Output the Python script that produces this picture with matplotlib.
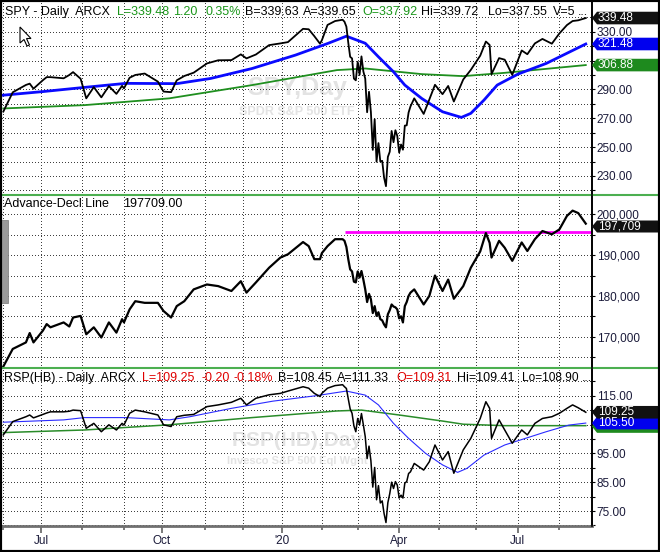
import numpy as np
import pandas as pd
import matplotlib
matplotlib.use("Agg")
import matplotlib.pyplot as plt
from matplotlib.patches import Polygon, Rectangle
from matplotlib.lines import Line2D
from matplotlib.transforms import IdentityTransform

plt.rcParams['font.family'] = ['Liberation Sans', 'DejaVu Sans']

# NYSE sessions on the chart (x axis is one slot per trading day)
holidays = ['2019-07-04', '2019-09-02', '2019-11-28', '2019-12-25', '2020-01-01',
            '2020-01-20', '2020-02-17', '2020-04-10', '2020-05-25', '2020-07-03']

# readings (closes)
dates = ['2019-06-03', '2019-06-10', '2019-06-19', '2019-06-21', '2019-06-25', '2019-07-02',
         '2019-07-05', '2019-07-09', '2019-07-18', '2019-07-23', '2019-07-25', '2019-07-31',
         '2019-08-05', '2019-08-09', '2019-08-15', '2019-08-21', '2019-08-27', '2019-08-30',
         '2019-09-03', '2019-09-06', '2019-09-11', '2019-09-18', '2019-09-27', '2019-10-02',
         '2019-10-08', '2019-10-11', '2019-10-17', '2019-10-24', '2019-11-04', '2019-11-12',
         '2019-11-21', '2019-11-29', '2019-12-04', '2019-12-11', '2019-12-20', '2019-12-31',
         '2020-01-07', '2020-01-17', '2020-01-23', '2020-01-28', '2020-01-31', '2020-02-03',
         '2020-02-06', '2020-02-12', '2020-02-19',
         # crash, day by day
         '2020-02-20', '2020-02-21', '2020-02-24', '2020-02-25', '2020-02-26', '2020-02-27',
         '2020-02-28', '2020-03-02', '2020-03-03', '2020-03-04', '2020-03-05', '2020-03-06',
         '2020-03-09', '2020-03-10', '2020-03-11', '2020-03-12', '2020-03-13', '2020-03-16',
         '2020-03-17', '2020-03-18', '2020-03-19', '2020-03-20', '2020-03-23', '2020-03-24',
         '2020-03-25', '2020-03-26', '2020-03-27', '2020-03-30', '2020-03-31', '2020-04-01',
         '2020-04-02', '2020-04-03', '2020-04-06', '2020-04-07', '2020-04-08', '2020-04-09',
         # recovery
         '2020-04-14', '2020-04-21', '2020-04-24', '2020-04-29', '2020-05-05', '2020-05-08',
         '2020-05-13', '2020-05-20', '2020-05-27', '2020-06-03', '2020-06-08', '2020-06-10',
         '2020-06-11', '2020-06-17', '2020-06-22', '2020-06-26', '2020-07-06', '2020-07-09',
         '2020-07-15', '2020-07-21', '2020-07-28', '2020-08-03', '2020-08-07', '2020-08-12',
         '2020-08-17', '2020-08-21']

spy = [274.6, 288.0, 293.1, 294.0, 290.5, 296.4,
       298.5, 298.5, 297.7, 300.0, 302.0, 297.4,
       283.8, 291.6, 284.5, 292.3, 286.9, 292.5,
       290.7, 298.1, 300.0, 301.0, 295.4, 288.5,
       288.1, 296.3, 299.3, 301.6, 308.0, 310.2,
       310.3, 314.3, 311.5, 314.2, 320.7, 321.9,
       322.8, 332.0, 331.7, 326.9, 321.7, 324.1,
       334.7, 337.4, 338.3,
       336.9, 333.5, 322.4, 312.6, 311.5, 297.5,
       296.3, 309.1, 300.2, 312.9, 302.5, 297.5,
       274.2, 288.4, 274.4, 248.1, 269.3, 239.9,
       252.8, 240.0, 240.5, 228.8, 222.9, 243.2,
       246.8, 261.2, 253.4, 261.7, 257.8, 246.2,
       251.8, 248.2, 264.9, 265.1, 274.0, 278.2,
       283.8, 273.0, 283.0, 293.2, 286.7, 292.4,
       281.6, 296.9, 303.5, 313.4, 323.2, 320.8,
       300.6, 311.7, 310.6, 300.1, 317.0, 314.4,
       321.9, 325.0, 321.7, 328.8, 334.6, 337.4,
       337.9, 339.48]

adline = [162700, 167000, 168600, 170900, 168600, 171500,
          173100, 172300, 173500, 172500, 174700, 175100,
          170600, 172300, 169800, 173500, 171000, 174300,
          173500, 176700, 178700, 178300, 178300, 176300,
          174700, 177500, 178700, 181600, 182800, 182400,
          181200, 183600, 180800, 183300, 186900, 189400,
          190200, 193200, 192200, 189000, 189000, 190500,
          192200, 193900, 193900,
          193500, 192000, 189000, 186500, 186000, 183500,
          183300, 186000, 184500, 186100, 184000, 181600,
          178500, 180500, 179200, 175800, 177500, 175100,
          176000, 174300, 174000, 173000, 172300, 175500,
          176500, 177900, 177400, 177200, 176700, 174500,
          175000, 173500, 177500, 178500, 180000, 180800,
          181600, 177900, 180000, 185000, 181200, 184000,
          179300, 182400, 186900, 190900, 195400, 193000,
          189400, 193500, 191800, 188600, 193100, 191000,
          193900, 195900, 195100, 196300, 199600, 200900,
          200300, 197709]

rsp = [101.4, 106.0, 107.7, 108.3, 107.3, 108.5,
       109.0, 109.4, 109.4, 109.6, 110.0, 109.8,
       103.7, 105.4, 102.5, 104.9, 103.1, 105.4,
       104.8, 108.9, 110.0, 109.4, 108.3, 104.9,
       104.3, 107.7, 108.2, 108.5, 111.2, 111.8,
       112.7, 114.1, 111.8, 114.1, 115.3, 115.8,
       116.6, 118.1, 117.6, 115.8, 114.7, 115.8,
       117.6, 118.5, 118.8,
       118.1, 117.5, 113.9, 110.4, 108.9, 104.5,
       102.5, 107.1, 104.9, 108.8, 104.9, 100.8,
       93.2, 97.5, 92.5, 83.3, 90.1, 78.9,
       83.8, 77.8, 78.5, 74.1, 71.0, 77.9,
       81.0, 85.0, 82.8, 85.2, 84.0, 79.5,
       80.5, 79.5, 84.7, 85.2, 88.0, 88.6,
       91.5, 89.2, 92.1, 97.9, 92.7, 95.6,
       88.1, 96.2, 100.2, 107.1, 112.9, 110.6,
       100.2, 106.6, 103.1, 98.5, 103.1, 101.4,
       105.4, 107.1, 107.7, 108.9, 110.6, 111.8,
       110.8, 109.25]

spy_ma50_dates = ['2019-06-03', '2019-07-02', '2019-08-02', '2019-09-04', '2019-10-11', '2019-11-06',
                  '2019-12-09', '2020-01-13', '2020-02-06', '2020-02-21', '2020-03-06', '2020-03-17',
                  '2020-03-27', '2020-04-06', '2020-04-20', '2020-05-05', '2020-05-19', '2020-05-27',
                  '2020-06-05', '2020-06-16', '2020-07-01', '2020-07-23', '2020-08-21']
spy_ma50 = [286.0, 288.5, 291.4, 294.2, 294.0, 297.6,
            304.5, 313.8, 321.8, 326.9, 322.0, 312.6,
            302.2, 293.0, 283.7, 274.5, 270.6, 273.4,
            282.6, 293.0, 300.6, 308.0, 321.48]

spy_ma200_dates = ['2019-06-03', '2019-08-02', '2019-10-07', '2019-12-09', '2020-02-13',
                   '2020-03-06', '2020-04-20', '2020-05-20', '2020-06-22', '2020-08-21']
spy_ma200 = [276.8, 279.1, 283.8, 293.0, 303.4, 304.5, 300.6, 299.2, 301.5, 306.88]

rsp_ma50_dates = ['2019-06-03', '2019-07-18', '2019-08-02', '2019-09-04', '2019-10-07', '2019-10-22',
                  '2019-11-21', '2019-12-24', '2020-01-29', '2020-02-21', '2020-03-06', '2020-03-17',
                  '2020-03-27', '2020-04-08', '2020-04-22', '2020-05-05', '2020-05-15', '2020-05-22',
                  '2020-06-05', '2020-06-22', '2020-07-08', '2020-07-23', '2020-08-10', '2020-08-21']
rsp_ma50 = [105.8, 106.6, 107.4, 107.4, 106.6, 107.7,
            110.6, 113.1, 115.0, 116.6, 115.2, 111.8,
            105.4, 100.2, 95.0, 91.0, 88.4, 89.8,
            94.4, 97.9, 100.2, 102.5, 104.8, 105.5]

rsp_ma200_dates = ['2019-06-03', '2019-08-02', '2019-10-07', '2019-12-09', '2020-02-13', '2020-03-04',
                   '2020-04-01', '2020-05-05', '2020-05-20', '2020-06-22', '2020-08-21']
rsp_ma200 = [102.2, 103.1, 104.9, 107.4, 109.7, 110.0, 108.3, 106.2, 105.1, 104.6, 104.6]

ad_resistance = 195540
ad_resistance_from = '2020-02-20'

quarter_labels = ['Jul', 'Oct', "'20", 'Apr', 'Jul']

assert len(dates) == len(spy) == len(adline) == len(rsp)

sessions = pd.bdate_range('2019-06-03', '2020-08-21')
sessions = sessions[~sessions.isin(pd.to_datetime(holidays))]


def slot(ds):
    return sessions.searchsorted(pd.to_datetime(ds))


x = slot(dates)
month_first = sessions.to_series().groupby(sessions.to_period('M')).first()
month_pos = slot(month_first.values)
month_names = month_first.index.month
quarter_pos = [p for p, m in zip(month_pos, month_names) if m in (1, 4, 7, 10)]
other_pos = [p for p, m in zip(month_pos, month_names) if m not in (1, 4, 7, 10)]

W, H = 660, 552
fig = plt.figure(figsize=(W / 100, H / 100), dpi=100)
fig.patch.set_facecolor('white')


def box(top, bottom):
    return [2 / W, 1 - bottom / H, 590 / W, (bottom - top) / H]


def put(px, py, s, **kw):
    return fig.text(px / W, 1 - py / H, s, **kw)


ax1 = fig.add_axes(box(2, 195))
ax2 = fig.add_axes(box(195, 368))
ax3 = fig.add_axes(box(368, 526))

label_col = '#1b1b3a'
# crisp 1px dotted grid
grid_kw = dict(color='#404040', linewidth=0.72, linestyle=(0, (1, 2.6)), antialiased=False, zorder=0.5)

for ax in (ax1, ax2, ax3):
    ax.set_xlim(-0.7, 312.3)
    for s in ('top', 'left', 'bottom'):
        ax.spines[s].set_visible(False)
    ax.spines['right'].set_color('black')
    ax.spines['right'].set_linewidth(1.2)
    ax.yaxis.tick_right()
    ax.tick_params(axis='y', direction='out', length=2.2, width=0.8, pad=1.2,
                   labelsize=8.5, labelcolor=label_col)
    ax.set_xticks(quarter_pos)
    ax.set_xticks(other_pos, minor=True)
    for p in month_pos:
        ax.axvline(p, **grid_kw)

for ax in (ax1, ax2):
    ax.tick_params(axis='x', which='both', length=0, labelbottom=False)


def yscale(ax, lo, hi, ticks, fmt, shown):
    ax.set_ylim(lo, hi)
    ax.set_yticks(ticks)
    ax.set_yticklabels([fmt(v) if shown(v) else '' for v in ticks])
    for v in ticks:
        ax.axhline(v, **grid_kw)


# --- SPY panel (310 label sits under the green tag)
yscale(ax1, 216.8, 350.6, np.arange(220, 350, 10), lambda v: f'{v:.2f}',
       lambda v: v % 20 == 10 and v != 310)
ax1.text(0.5, 1 - (88 - 2) / 193, 'SPY,Day', transform=ax1.transAxes, ha='center', va='center',
         fontsize=18, fontweight='bold', color='#e3e3e3', zorder=0)
ax1.text(0.5, 1 - (112 - 2) / 193, 'SPDR S&P 500 ETF', transform=ax1.transAxes, ha='center',
         va='center', fontsize=9, fontweight='bold', color='#e3e3e3', zorder=0)
ax1.plot(slot(spy_ma200_dates), spy_ma200, color='#1f8f1f', lw=1.3, zorder=2)
ax1.plot(slot(spy_ma50_dates), spy_ma50, color='#0a0aff', lw=2.0, zorder=2)
ax1.plot(x, spy, color='black', lw=1.3, zorder=3)

# --- Advance-Decline panel
yscale(ax2, 162330, 204730, np.arange(165000, 204000, 5000), lambda v: f'{v:,}',
       lambda v: v % 10000 == 0)
ax2.hlines(ad_resistance, slot([ad_resistance_from])[0], 312.3, color='#ff00ff', lw=2.0, zorder=2)
ax2.plot(x, adline, color='black', lw=1.6, zorder=3)

# --- RSP panel (105 label sits under the blue tag)
yscale(ax3, 69.8, 124.6, np.arange(70, 125, 5), lambda v: f'{v:.2f}',
       lambda v: v % 10 == 5 and v != 105)
ax3.text(0.5, 1 - (441 - 368) / 158, 'RSP(HB),Day', transform=ax3.transAxes, ha='center',
         va='center', fontsize=15, fontweight='bold', color='#e3e3e3', zorder=0)
ax3.text(0.5, 1 - (461 - 368) / 158, 'Invesco S&P 500 Eql Wght', transform=ax3.transAxes,
         ha='center', va='center', fontsize=8, fontweight='bold', color='#e3e3e3', zorder=0)
ax3.plot(slot(rsp_ma200_dates), rsp_ma200, color='#2a8c2a', lw=1.1, zorder=2)
ax3.plot(slot(rsp_ma50_dates), rsp_ma50, color='#2b2bff', lw=0.8, zorder=2)
ax3.plot(x, rsp, color='black', lw=1.1, zorder=3)

ax3.set_xticklabels(quarter_labels)
ax3.spines['bottom'].set_visible(True)
ax3.spines['bottom'].set_color('#707070')
ax3.spines['bottom'].set_linewidth(2)
ax3.tick_params(axis='x', which='major', direction='out', length=5, width=1.3, color='#707070',
                pad=1.5, labelsize=8.5, labelcolor=label_col)
ax3.tick_params(axis='x', which='minor', direction='out', length=3, width=1.3, color='#707070')

# titles
green, red = '#1a961a', '#e00000'
for s, px, c in [('SPY - Daily  ARCX', 5, 'black'), ('L=339.48', 117, green), ('1.20', 173, green),
                 ('0.35%', 205, green), ('B=339.63', 245, 'black'), ('A=339.65', 303, 'black'),
                 ('O=337.92', 362, green), ('Hi=339.72', 421, 'black'), ('Lo=337.55', 488, 'black'),
                 ('V=5', 553, 'black'), ('...', 578, 'black')]:
    put(px, 12, s, color=c, fontsize=9, va='center')
put(4, 204, 'Advance-Decl Line', color='black', fontsize=9, va='center')
put(123, 204, '197709.00', color='black', fontsize=9, va='center')
for s, px, c in [('RSP(HB) - Daily  ARCX', 4, 'black'), ('L=109.25', 142, red), ('-0.20', 201, red),
                 ('-0.18%', 233, red), ('B=108.45', 278, 'black'), ('A=111.33', 337, 'black'),
                 ('O=109.31', 396, red), ('Hi=109.41', 457, 'black')]:
    put(px, 378, s, color=c, fontsize=9, va='center')
put(522, 378, 'Lo=108.90', color='black', fontsize=8.6, va='center')
put(582, 378, '...', color='black', fontsize=9, va='center')


def tag(ax, value, text, face, h=6.3):
    y = ax.transData.transform((0, value))[1]
    pts = [(592, y), (597, y + h), (W, y + h), (W, y - h), (597, y - h)]
    fig.add_artist(Polygon(pts, closed=True, facecolor=face, edgecolor='none',
                           transform=IdentityTransform(), zorder=5))
    if text:
        fig.text(598 / W, y / H, text, color='white', fontsize=8.5, va='center', ha='left', zorder=6)


tag(ax1, spy_ma200[-1], f'{spy_ma200[-1]:.2f}', '#1e8a1e')
tag(ax1, spy_ma50[-1], f'{spy_ma50[-1]:.2f}', '#0000ee')
tag(ax1, spy[-1], f'{spy[-1]:.2f}', '#111111')
# nudged down a little so it clears the 200,000 label
tag(ax2, adline[-1] - 700, f'{adline[-1]:,}', '#111111', h=6.0)
tag(ax3, 104.3, '', '#1e8a1e')
tag(ax3, rsp_ma50[-1], f'{rsp_ma50[-1]:.2f}', '#0000ee')
tag(ax3, rsp[-1], f'{rsp[-1]:.2f}', '#111111')

# panel separators, frame, side tab, mouse cursor
for py in (195, 368):
    fig.add_artist(Line2D([0, 1], [1 - py / H, 1 - py / H], transform=fig.transFigure,
                          color='#4caf50', lw=1.5, zorder=4))
fig.add_artist(Line2D([592 / W, 592 / W], [1 - 526 / H, 1], transform=fig.transFigure,
                      color='black', lw=1.2, zorder=4))
fig.add_artist(Rectangle((0, H - 303), 8, 83, transform=IdentityTransform(),
                         facecolor='#9a9a9a', edgecolor='#777777', lw=0.5, zorder=4))
fig.add_artist(Rectangle((0, 0), 1, 1, transform=fig.transFigure, fill=False,
                         edgecolor='black', lw=3, zorder=10))
cursor = [(20, 27), (20, 43), (24, 39.5), (27, 46), (29.5, 45), (26.5, 38.5), (31, 38.5)]
fig.add_artist(Polygon([(a, H - b) for a, b in cursor], closed=True, facecolor='white',
                       edgecolor='black', lw=0.8, transform=IdentityTransform(), zorder=6))

fig.savefig('out.png', dpi=100)
